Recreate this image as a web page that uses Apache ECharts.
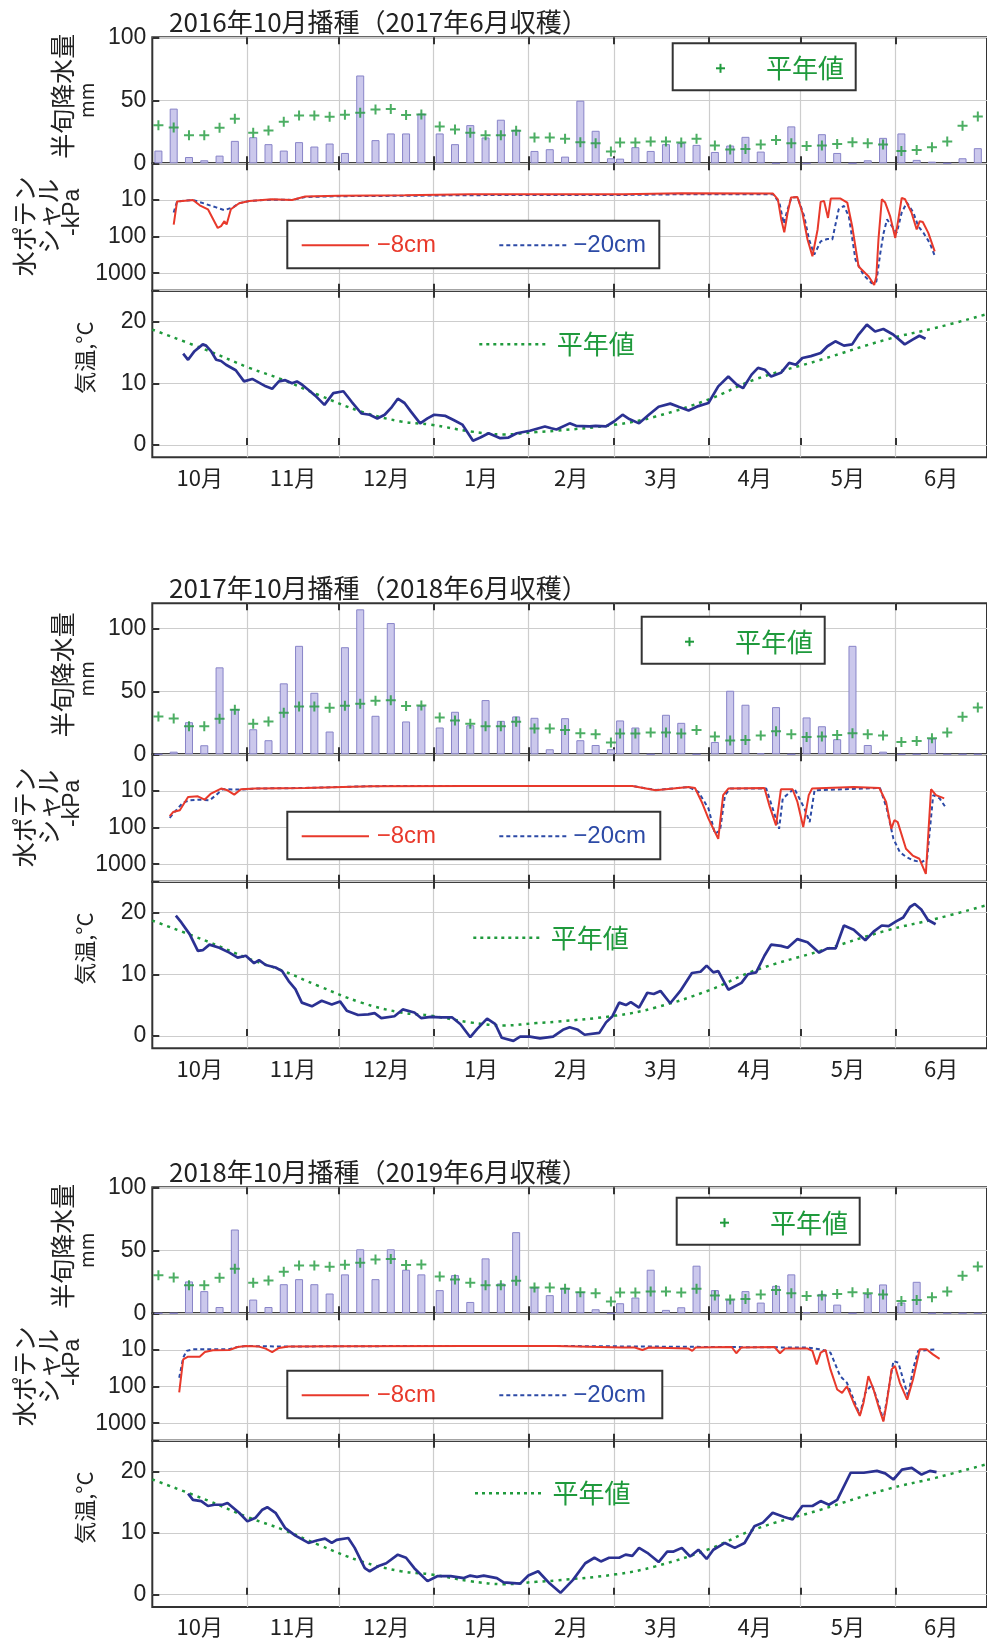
<!DOCTYPE html>
<html>
<head>
<meta charset="utf-8">
<script src="https://cdn.jsdelivr.net/npm/echarts@6/dist/echarts.min.js"></script>
<style>
  html, body { margin: 0; padding: 0; background: #fff; overflow: hidden; }
  #chart { width: 987px; height: 1638px; }
</style>
</head>
<body>
<div id="chart"></div>
<script>
// 月の区切り（10月1日 = 0 日目）
const monthStarts = [0, 31, 61, 92, 123, 151, 182, 212, 243, 273];
const monthNames = ['10月', '11月', '12月', '1月', '2月', '3月', '4月', '5月', '6月'];

// 半旬降水量 平年値 (mm)
const rainNormal = [
  30.1, 28.5, 22.3, 22.3, 28.2, 35.4,
  24.2, 26, 33, 38, 38, 37,
  38.6, 40.2, 42.6, 43, 38.3, 38.8,
  29.3, 26.9, 24.2, 22.3, 22.3, 25.8,
  20.5, 20.5, 19.4, 16.8, 16, 9.3,
  16.5, 16.5, 17.3, 17.3, 16.5, 19.4,
  14.1, 10.9, 11.4, 14.9, 18.4, 16,
  13.8, 14.1, 15.4, 16.8, 16, 14.9,
  9.8, 10.6, 12.8, 17.3, 29.8, 37.2
];
// 半旬降水量 (mm)
const rain2017 = [
  10.1, 43.4, 5, 2.4, 6.1, 17.8,
  20.7, 15.2, 10.1, 16.8, 13.3, 15.7,
  8.2, 69.7, 18.4, 23.7, 23.7, 39.4,
  23.7, 15.2, 30.3, 20.5, 34.6, 26.6,
  9.8, 11.2, 5.3, 49.7, 25.8, 4,
  3.7, 12.8, 9.8, 15.2, 16, 14.6,
  9, 14.1, 21, 9.3, 0, 29.3,
  0, 23.1, 8.2, 0, 2.4, 20.2,
  23.7, 2.7, 1.3, 0, 4, 12
];
const rain2018 = [
  0, 2.1, 25.5, 7.2, 69.1, 35.9,
  19.9, 11.2, 56.4, 86.2, 48.9, 18.1,
  85.1, 115.2, 30.6, 104.3, 26.1, 38.6,
  21.3, 33.8, 23.1, 43.1, 26.6, 30.1,
  29, 4, 28.7, 11.2, 7.4, 4,
  26.9, 21.3, 0, 31.4, 25, 0,
  9.8, 50.5, 39.4, 0.8, 37.5, 0,
  29.3, 22.3, 12, 86.2, 7.4, 2.1,
  0, 0, 12.5, 0, 0, 0
];
const rain2019 = [
  0, 0, 25.3, 17.6, 5, 66.5,
  10.9, 5, 23.1, 27.1, 23.1, 15.7,
  30.9, 50.8, 27.1, 50.8, 34.6, 30.9,
  18.4, 30.3, 9, 43.6, 23.7, 64.4,
  20.5, 14.4, 20.2, 17, 3.2, 0,
  8, 12.5, 34.6, 2.7, 4.8, 37.8,
  18.4, 10.9, 17.6, 8.5, 21.8, 30.9,
  0.8, 15.4, 6.9, 0, 15.4, 22.9,
  8.5, 25, 0, 0, 0, 0
];

// 水ポテンシャル [日, -kPa]
const wp8_2017 = [[7,47],[8.1,11],[13.3,10],[15.5,14],[18.2,18],[21.4,58],[22.5,52],[23.6,38],[24.3,47],[25.7,18],[28.4,12.3],[31.7,10.7],[39.2,9.6],[45.7,10],[50,8.1],[60.8,7.7],[82.5,7.4],[104,7],[136,7],[154,7],[173,6.6],[203,6.7],[204.6,9.6],[205.7,34],[206.7,76],[207.8,22],[208.9,8.6],[211,8.3],[212.6,22],[214.3,120],[215.9,346],[216.5,346],[217.6,64],[218.6,11.3],[219.7,10.6],[221,31],[221.9,9.2],[225.1,9.2],[227.3,11.8],[228.9,52],[231,657],[234.3,1230],[236.1,2100],[236.8,1230],[237.5,120],[238.6,9.6],[239.7,11.8],[241.3,27.6],[243,109],[244,34],[245.1,8.8],[246.2,9.6],[248.3,22],[250,64],[251,38],[252,40],[253.8,79],[255.9,254]];
const wp20_2017 = [[7,22],[8.1,11],[13.3,10],[17.6,13],[20.9,16],[23.6,19],[26.3,16],[28.4,12.3],[31.7,10.7],[39.2,9.8],[45.7,10],[50,8.3],[60.8,7.9],[82.5,7.7],[104,7.4],[136,7.3],[154,7.3],[173,7],[203,7],[205.1,11.8],[206.5,44],[207.8,18],[209,8.8],[211,8.3],[213.2,27.6],[214.8,120],[216.5,312],[218.6,135],[220.8,116],[222.4,120],[224.5,18],[226.2,14.6],[227.8,27.6],[230,430],[232.6,1110],[235.3,1890],[236.8,1700],[238.1,282],[239.2,79],[240.3,34],[241.9,52],[243.5,79],[245.1,22],[246.8,11.8],[248.9,22],[250.5,52],[252.2,79],[254.3,150],[255.9,333]];
const wp8_2018 = [[5.7,48.5],[6.8,37.6],[9,33.8],[11.7,14.6],[14.9,14],[17.1,17.3],[19.2,11.8],[22.5,8.6],[24.6,9.6],[26.8,12.6],[29,9],[33.8,8.6],[50,8.3],[71.7,7.4],[104,7.3],[132,7.3],[157,7.3],[164.6,9.6],[175.4,7.8],[177.5,8.3],[179.7,20],[181.9,57],[183.5,108],[185.1,203],[186.7,13],[188.4,8.6],[200.2,8.3],[201.8,24.7],[204,87],[205.6,9],[209.4,9],[211,20],[212.9,97],[214.7,13],[215.8,8.6],[229.4,7.8],[237.8,8.3],[240,20],[241.7,108],[242.7,63],[243.8,71],[246.5,380],[248.7,580],[250.9,710],[253,1840],[254.7,9],[256.3,13],[259,16]];
const wp20_2018 = [[5.7,54],[6.8,42],[10,21],[12.2,18],[15.5,17.3],[18.7,18],[20.9,13],[23,9],[29,9.2],[33.8,8.6],[50,8.3],[71.7,7.4],[104,7.3],[132,7.3],[157,7.3],[164.6,9.4],[175.4,7.8],[178.6,10.6],[181.9,30],[184,147],[185.7,119],[187.3,13],[189,8.6],[200.8,8.6],[202.9,30],[205,108],[206.2,16],[210,8.6],[213.3,30],[215,71],[216.6,9.6],[238,8.3],[240.2,30],[242.4,203],[244.5,470],[246.7,640],[248.9,790],[251.6,880],[253.4,710],[255.4,13],[257.5,16],[259.4,27.5]];
const wp8_2019 = [[8.8,143],[10.1,18],[11.7,15.3],[15.5,15.3],[17.2,11.4],[19.8,10.2],[25.2,10],[27.9,8.3],[30.6,7.8],[34.9,8.1],[37.1,9.2],[39.2,11.4],[41.4,8.8],[44.6,8.1],[60.9,7.9],[104,7.8],[132,7.8],[153.7,8.6],[157.8,8.6],[160.3,10],[162.4,8.6],[175.4,9.2],[176.6,10.6],[177.7,8.6],[189.5,8.3],[191,12.3],[192.6,8.6],[203.5,8.3],[205.3,12.3],[206.9,9.2],[214.3,9.2],[215.9,10.6],[217.3,24.8],[218.6,11.8],[220.2,10],[221.8,34],[224,120],[225.6,148],[227.2,98],[229.4,280],[231.4,630],[232.6,280],[234.2,52],[235.9,120],[237.5,345],[239.1,900],[240.2,280],[241.8,34],[242.9,27.5],[244.5,79],[246.9,228],[248.8,64],[251,9.6],[253.2,9.6],[255.3,13.2],[257.5,17.5]];
const wp20_2019 = [[8.8,57.6],[10.1,16.3],[11.2,10.6],[13.3,9.6],[25,9.6],[27.9,8.3],[30.6,7.8],[44.6,8.1],[60.9,7.9],[104,7.8],[132,7.8],[214.3,8.6],[218.6,9.6],[221.8,11.8],[225,52],[227.2,79],[229.4,228],[231.4,590],[233.2,148],[235.3,88],[237.5,280],[239.1,840],[240.8,120],[242.4,20],[244,22.3],[245.6,64],[247.2,185],[248.8,34],[250.5,10.6],[256.4,9.6]];

// 気温 [日, °C]
const tempNormal = [[0,18.7],[17.6,15.4],[31.7,12.5],[42.5,10.6],[54.4,8.1],[68.4,5.4],[81.4,3.8],[91.1,3.3],[104,2.2],[114.9,1.7],[125.7,2.1],[132,2.3],[151.6,3.3],[164.6,4.6],[182.1,7.4],[197,10.6],[218.6,13.8],[240.2,17.1],[256.4,19],[273,21.2]];
const temp2017 = [[10.1,14.8],[11.7,13.8],[13.8,15.2],[16.5,16.3],[17.6,16.1],[19.2,15.2],[20.9,13.8],[22.5,13.6],[24.1,13],[27.3,12.1],[30,10.3],[32.7,10.7],[34.9,10.1],[37.1,9.5],[39.2,9.1],[41.4,10.3],[43.5,10.5],[45.7,10],[47.3,10.3],[48.9,9.8],[51.1,8.9],[53.3,8],[56.3,6.5],[59.2,8.4],[62.5,8.7],[65.2,7],[68.4,5.1],[71.1,4.9],[73.6,4.3],[76,4.9],[78.1,6],[80.3,7.5],[82.5,6.8],[84.6,5.4],[87.6,3.5],[90,4.3],[92.2,4.9],[95.9,4.7],[98.7,4],[101.4,3.3],[104.9,0.7],[107.3,1.2],[110,1.9],[113.8,1.1],[116.5,1.2],[119.2,1.9],[123.5,2.3],[128.4,3],[130.5,2.7],[132.2,2.5],[136.5,3.5],[138.6,3.1],[143,3],[145,3.1],[148.4,3],[151,3.8],[153.8,4.9],[156,4.2],[159.2,3.5],[162.4,4.9],[165.6,6.2],[169.4,6.7],[172.1,6.2],[175.4,5.6],[178.6,6.3],[181.9,6.8],[185.1,9.5],[188.4,11.1],[191.1,9.8],[193.2,9.2],[196,11.4],[198.1,12.5],[200.3,12.2],[202.4,11.1],[205.6,11.7],[208.3,13.3],[210.5,13],[212.6,14.1],[215.4,14.4],[218.6,14.9],[220.8,16],[223.4,16.8],[226.2,16.1],[228.9,16.3],[231,17.9],[233.7,19.5],[236.4,18.4],[239.1,18.8],[242.3,17.9],[246.1,16.3],[248.8,17.1],[250.9,17.7],[252.9,17.2]];
const temp2018 = [[7.7,19.5],[9.5,18.4],[12.2,16.5],[14.9,13.8],[16.5,13.9],[18.7,14.8],[21.9,14.3],[25.2,13.5],[27.9,12.7],[30.6,13],[33.3,11.8],[34.9,12.3],[37.1,11.5],[40.3,11.1],[42.5,10.5],[44.6,8.9],[46.8,7.6],[48.9,5.4],[52.2,4.8],[55.4,5.7],[58.7,5.1],[61.4,5.6],[63.6,4.1],[67.3,3.4],[70.6,3.5],[72.7,3.7],[74.9,2.9],[79.2,3.2],[81.9,4.3],[85.7,3.8],[87.9,2.9],[91.1,3.1],[94.3,3],[98.1,3],[100.8,1.9],[104,-0.2],[106.2,1.1],[109.5,2.8],[112.2,1.9],[114.3,-0.3],[118.1,-0.8],[120.3,-0.1],[123.5,-0.1],[126.8,-0.4],[131.1,-0.1],[134.3,1],[136.5,1.4],[139.2,1],[141.4,0.2],[146.2,0.5],[148.4,2.2],[150.5,3.2],[152.7,5.4],[154.9,5],[156.5,5.5],[159.2,4.6],[161.9,7],[164,6.8],[166.2,7.3],[169.4,5.3],[172.7,7.3],[176.5,10.2],[179.3,10.4],[181.3,11.4],[183.5,10.3],[185.1,10.5],[188.4,7.5],[192.7,8.6],[194.8,10],[197.5,10.3],[200.2,13],[202.4,14.8],[205.6,14.6],[207.8,14.3],[211,15.7],[214.3,15.2],[218.1,13.5],[220.8,14.2],[223.5,14.2],[226.2,17.9],[229.4,17.2],[233.2,15.5],[235.9,16.9],[238.6,17.9],[240.8,17.8],[243.4,18.6],[245.6,19.2],[247.8,20.9],[249.4,21.4],[251.5,20.5],[253.7,18.8],[256.2,18.1]];
const temp2019 = [[11.7,16.4],[13.3,15.4],[16,15.2],[18.2,14.4],[20.3,14.6],[23,14.6],[24.6,14.9],[28.4,13.3],[31.1,11.9],[33.8,12.5],[36,13.8],[37.6,14.2],[40.3,13.3],[43.5,10.8],[46.8,9.6],[51.1,8.4],[53.8,8.8],[56.5,9.1],[58.7,8.4],[60.3,8.9],[64.1,9.2],[66.2,7.6],[69.5,4.3],[71.1,3.8],[73.8,4.6],[76.5,5.1],[80.3,6.5],[83,6],[85.7,4.3],[90,2.2],[93.2,3],[97.6,3],[101.9,2.7],[104,3.1],[106.2,2.9],[108.4,3.1],[112.7,2.7],[114.9,2],[120.3,1.8],[123,3.1],[126.2,3.8],[130,1.8],[133.5,0.3],[137.6,2.4],[141.6,5.1],[144.6,6],[146.7,5.4],[149.4,6],[152.7,6],[154.8,6.5],[157,6.3],[159.2,7.6],[161.9,6.8],[165.6,5.3],[168.4,7],[170.5,7],[173.2,7.6],[175.9,6.2],[178.6,7.3],[181.3,5.8],[183.5,7.3],[187.3,8.4],[190.5,7.6],[193.7,8.4],[196.9,11.1],[199.7,11.7],[202.9,13.3],[206.7,12.6],[209.4,12.2],[212.6,14.4],[215.9,14.4],[218.6,15.2],[221.3,14.6],[224,15.4],[228.4,19.8],[232.7,19.8],[237,20.1],[239.7,19.7],[242.4,18.7],[245.2,20.3],[248.4,20.6],[251.6,19.5],[254.3,20.1],[256.5,19.9]];

const titles = ['2016年10月播種（2017年6月収穫）', '2017年10月播種（2018年6月収穫）', '2018年10月播種（2019年6月収穫）'];

// 色とフォント
const RED = '#e8392b', BLUE = '#2c4aa6', GREEN = '#1f9a3c', NAVY = '#2b3192';
const BORDER = '#333', GRIDC = '#cdcdcd';
const JP = '"Noto Sans CJK JP", sans-serif';
const NUM = '"Liberation Sans", Arial, sans-serif';

// 半旬の中心日と月の中央
const pentadDays = [];
monthStarts.slice(0, 9).forEach(s => { for (let k = 0; k < 6; k++) pentadDays.push(s + 2 + 5 * k); });
const monthMids = monthNames.map((m, i) => (monthStarts[i] + monthStarts[i + 1]) / 2);

// レイアウト
const LEFT = 152.3, PLOT_W = 843, WP_H = 127.4, T_H = 166.6;
const blocks = [
  { rain: rain2017, wp8: wp8_2017, wp20: wp20_2017, temp: temp2017, top: 37.3, rainH: 126, rainMax: 100, rainLegX: 672.7, rainLegDy: 6, tLegX: 479.3, tLegDy: 53.6, wpLegW: 372 },
  { rain: rain2018, wp8: wp8_2018, wp20: wp20_2018, temp: temp2018, top: 603.3, rainH: 151, rainMax: 120, rainLegX: 641.7, rainLegDy: 13.4, tLegX: 473.3, tLegDy: 56, wpLegW: 373 },
  { rain: rain2019, wp8: wp8_2019, wp20: wp20_2019, temp: temp2019, top: 1187.3, rainH: 126, rainMax: 100, rainLegX: 676.7, rainLegDy: 10.4, tLegX: 475, tLegDy: 52.6, wpLegW: 375 }
];

const grids = [], xAxes = [], yAxes = [], series = [], graphic = [];

const tickStyle = { show: true, inside: true, length: 7, lineStyle: { color: BORDER, width: 2 } };
const yLabel = { margin: 6, fontSize: 23, fontFamily: NUM, color: '#222' };

function addGrid(top, height) {
  grids.push({ left: LEFT, top: top, width: PLOT_W, height: height, show: true, borderColor: BORDER, borderWidth: 2, backgroundColor: 'transparent' });
  return grids.length - 1;
}

function addX(gi, withLabels) {
  const base = { type: 'value', gridIndex: gi, min: 0, max: 273, axisLine: { show: false },
    axisTick: Object.assign({ customValues: monthStarts.slice(1, 9) }, tickStyle) };
  xAxes.push(Object.assign({}, base, {
    position: 'bottom',
    splitLine: { show: true, lineStyle: { color: GRIDC, width: 1.2 } },
    axisLabel: withLabels ? {
      customValues: monthMids, margin: 9, fontSize: 22, fontFamily: JP, color: '#222',
      formatter: v => { const i = monthMids.findIndex(m => Math.abs(m - v) < 0.01); return i >= 0 ? monthNames[i] : ''; }
    } : { show: false }
  }));
  xAxes.push(Object.assign({}, base, { position: 'top', splitLine: { show: false }, axisLabel: { show: false } }));
  return xAxes.length - 2;
}

function text(str, x, y, font, color) {
  graphic.push({ type: 'text', x: x, y: y, z: 100,
    style: { text: str, font: font, fill: color, align: 'left', verticalAlign: 'middle', textAlign: 'left', textVerticalAlign: 'middle' } });
}
function vtext(str, x, y, font, color) {
  graphic.push({ type: 'text', x: x, y: y, rotation: Math.PI / 2, z: 100,
    style: { text: str, font: font, fill: color, align: 'center', verticalAlign: 'middle', textAlign: 'center', textVerticalAlign: 'middle' } });
}
function line(x1, y1, x2, y2, color, width, dash) {
  graphic.push({ type: 'line', z: 100, shape: { x1: x1, y1: y1, x2: x2, y2: y2 },
    style: { stroke: color, lineWidth: width, lineDash: dash || null } });
}
function box(x, y, w, h) {
  graphic.push({ type: 'rect', z: 99, shape: { x: x, y: y, width: w, height: h },
    style: { fill: '#fff', stroke: BORDER, lineWidth: 2 } });
}

const plusSymbol = 'path://M4,0H6V4H10V6H6V10H4V6H0V4H4Z';

blocks.forEach((b, bi) => {
  const wpTop = b.top + b.rainH;
  const tTop = wpTop + WP_H;

  // 半旬降水量
  const g0 = addGrid(b.top, b.rainH);
  const x0 = addX(g0, false);
  yAxes.push({ type: 'value', gridIndex: g0, min: 0, max: b.rainMax,
    axisLine: { show: false },
    axisTick: Object.assign({ customValues: [0, 50, 100] }, tickStyle),
    axisLabel: Object.assign({ customValues: [0, 50, 100] }, yLabel),
    splitLine: { show: true, lineStyle: { color: GRIDC, width: 1.2 } } });
  series.push({ type: 'bar', xAxisIndex: x0, yAxisIndex: g0, barWidth: 8, silent: true,
    data: pentadDays.map((d, i) => [d, b.rain[i]]),
    itemStyle: { color: '#cbc8ec', borderColor: '#8884c8', borderWidth: 1 } });
  series.push({ type: 'scatter', xAxisIndex: x0, yAxisIndex: g0, symbol: plusSymbol, symbolSize: 10, silent: true, z: 5,
    data: pentadDays.map((d, i) => [d, rainNormal[i]]),
    itemStyle: { color: GREEN } });

  // 水ポテンシャル
  const g1 = addGrid(wpTop, WP_H);
  const x1 = addX(g1, false);
  yAxes.push({ type: 'log', logBase: 10, gridIndex: g1, min: 1, max: 3000, inverse: true,
    axisLine: { show: false },
    axisTick: tickStyle,
    axisLabel: Object.assign({ formatter: v => { const r = Math.round(v); return (r === 10 || r === 100 || r === 1000) ? String(r) : ''; } }, yLabel),
    splitLine: { show: true, lineStyle: { color: GRIDC, width: 1.2 } } });
  series.push({ type: 'line', xAxisIndex: x1, yAxisIndex: g1, data: b.wp20, symbol: 'none', silent: true,
    lineStyle: { color: BLUE, width: 2, type: [4, 3] } });
  series.push({ type: 'line', xAxisIndex: x1, yAxisIndex: g1, data: b.wp8, symbol: 'none', silent: true,
    lineStyle: { color: RED, width: 2 } });

  // 気温
  const g2 = addGrid(tTop, T_H);
  const x2 = addX(g2, true);
  yAxes.push({ type: 'value', gridIndex: g2, min: -2, max: 25,
    axisLine: { show: false },
    axisTick: Object.assign({ customValues: [0, 10, 20] }, tickStyle),
    axisLabel: Object.assign({ customValues: [0, 10, 20] }, yLabel),
    splitLine: { show: true, lineStyle: { color: GRIDC, width: 1.2 } } });
  series.push({ type: 'line', xAxisIndex: x2, yAxisIndex: g2, data: tempNormal, symbol: 'none', smooth: 0.4, silent: true,
    lineStyle: { color: GREEN, width: 2.5, type: [3, 5] } });
  series.push({ type: 'line', xAxisIndex: x2, yAxisIndex: g2, data: b.temp, symbol: 'none', silent: true,
    lineStyle: { color: NAVY, width: 2.7 } });

  // タイトルと軸名
  text(titles[bi], 169, b.top - 15.6, '26px ' + JP, '#222');
  vtext('半旬降水量', 62, b.top + b.rainH / 2 - 4, '25px ' + JP, '#222');
  vtext('mm', 87, b.top + b.rainH / 2, '19px ' + JP, '#222');
  vtext('水ポテン', 24, wpTop + 63, '25px ' + JP, '#222');
  vtext('シャル', 48, wpTop + 53, '25px ' + JP, '#222');
  vtext('-kPa', 73, wpTop + 49, '23px ' + NUM, '#222');
  vtext('気温,°C', 85, tTop + 67, '22px ' + JP, '#222');

  // 降水量の凡例
  const ry = b.top + b.rainLegDy;
  box(b.rainLegX, ry, 183, 47);
  line(b.rainLegX + 43.3, ry + 25, b.rainLegX + 52.3, ry + 25, GREEN, 2);
  line(b.rainLegX + 47.8, ry + 20.5, b.rainLegX + 47.8, ry + 29.5, GREEN, 2);
  text('平年値', b.rainLegX + 93.3, ry + 25, '26px ' + JP, GREEN);

  // 水ポテンシャルの凡例
  const wy = wpTop + 57.4;
  box(287.3, wy, b.wpLegW, 47.6);
  line(301.7, wy + 24.5, 369, wy + 24.5, RED, 2);
  text('−8cm', 376.7, wy + 24.5, '24px ' + NUM, RED);
  line(499.3, wy + 24.5, 566.7, wy + 24.5, BLUE, 2, [4, 3]);
  text('−20cm', 573.3, wy + 24.5, '24px ' + NUM, BLUE);

  // 気温の凡例
  const ty = tTop + b.tLegDy;
  line(b.tLegX, ty, b.tLegX + 69, ty, GREEN, 2.5, [3, 4]);
  text('平年値', b.tLegX + 77.4, ty, '26px ' + JP, GREEN);
});

const chart = echarts.init(document.getElementById('chart'));
chart.setOption({
  animation: false,
  backgroundColor: '#fff',
  grid: grids,
  xAxis: xAxes,
  yAxis: yAxes,
  series: series,
  graphic: graphic
});
</script>
</body>
</html>
